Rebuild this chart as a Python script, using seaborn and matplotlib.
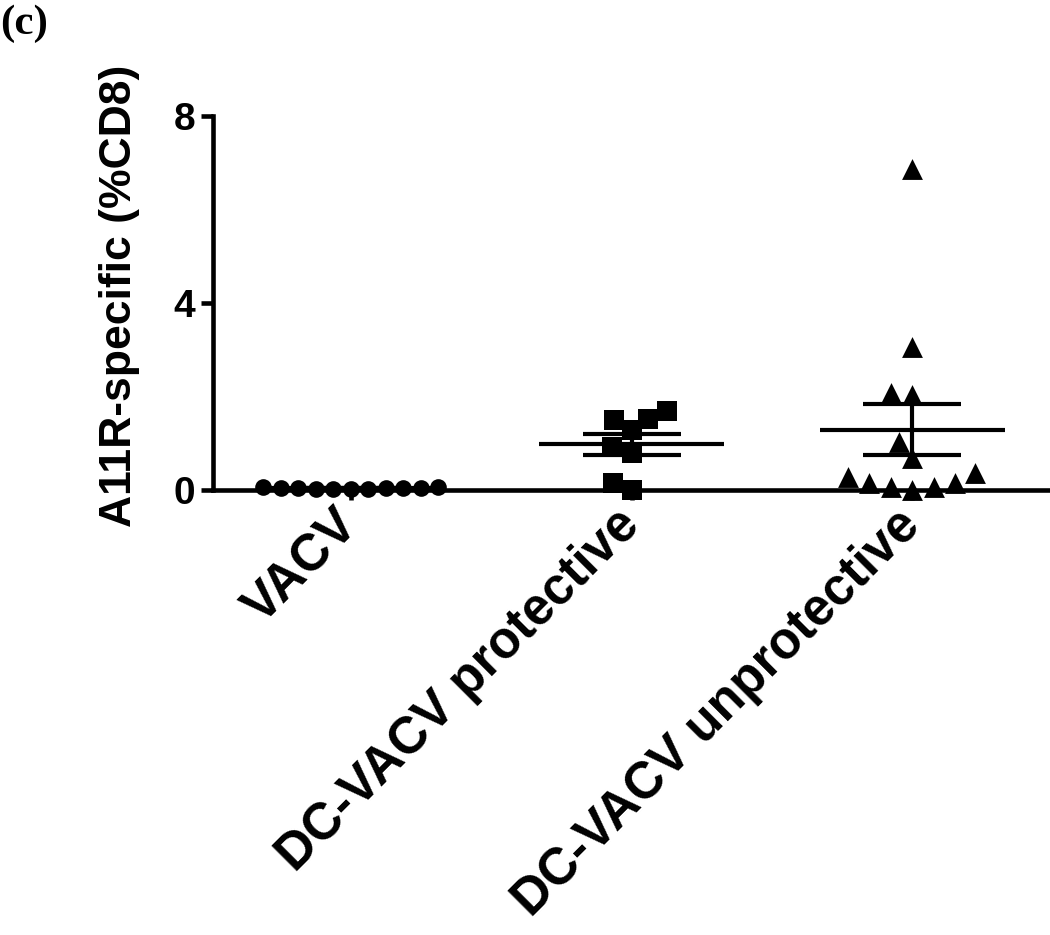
import matplotlib
matplotlib.use("Agg")
import matplotlib.pyplot as plt
import numpy as np
import pandas as pd
import seaborn as sns

groups = ['VACV', 'DC-VACV protective', 'DC-VACV unprotective']
markers = ['o', 's', '^']
sizes = [12, 14, 15]

vacv = [0.04, 0.03, 0.05, 0.02, 0.04, 0.06, 0.03, 0.07, 0.04, 0.05, 0.03]
protective = [1.69, 1.50, 1.52, 1.28, 0.92, 0.79, 0.15, 0.0]
unprotective = [6.87, 3.06, 2.03, 2.07, 1.03, 0.68, 0.36, 0.15, 0.06, 0.0, 0.06, 0.15, 0.28]

df = pd.DataFrame({
    'group': [groups[0]] * len(vacv) + [groups[1]] * len(protective) + [groups[2]] * len(unprotective),
    'value': vacv + protective + unprotective,
})

sns.set_theme(style='ticks')
plt.rcParams['font.family'] = ['Liberation Sans', 'DejaVu Sans']
plt.rcParams['font.weight'] = 'bold'
plt.rcParams['text.color'] = 'black'
plt.rcParams['axes.labelcolor'] = 'black'
plt.rcParams['xtick.color'] = 'black'
plt.rcParams['ytick.color'] = 'black'

fig = plt.figure(figsize=(10.5, 9.35), dpi=100)
ax = fig.add_axes([0.203, 0.476, 0.797, 0.4])

for g, m, s in zip(groups, markers, sizes):
    sns.swarmplot(data=df[df['group'] == g], x='group', y='value', order=groups,
                  marker=m, color='black', size=s, linewidth=0, ax=ax)

for coll in ax.collections:
    coll.set_clip_on(False)
    coll.set_zorder(5)

# mean with SEM
stats = df.groupby('group', sort=False)['value'].agg(['mean', 'sem'])
for i, g in enumerate(groups):
    mu = stats.loc[g, 'mean']
    se = stats.loc[g, 'sem']
    ax.hlines(mu, i - 0.33, i + 0.33, color='black', lw=3, zorder=6, clip_on=False)
    ax.errorbar(i, mu, yerr=se, color='black', lw=3, capsize=35, capthick=3,
                zorder=6, clip_on=False)

ax.set_xlim(-0.49, 2.49)
ax.set_ylim(0, 8)
ax.set_yticks([0, 4, 8])
ax.set_yticklabels(['0', '4', '8'])
ax.set_xlabel('')
ax.set_ylabel('A11R-specific (%CD8)', fontsize=32, fontweight='bold', color='black')
ax.yaxis.set_label_coords(-0.088, 0.52)

sns.despine(ax=ax)
for s in ['left', 'bottom']:
    ax.spines[s].set_linewidth(3.3)
    ax.spines[s].set_color('black')
ax.tick_params(axis='both', width=3.3, length=9, color='black', labelcolor='black',
               labelsize=28, pad=4)
ax.tick_params(axis='x', length=7, labelsize=37, pad=13)
plt.setp(ax.get_xticklabels(), rotation=45, ha='right', va='center',
         rotation_mode='anchor', fontweight='bold')
plt.setp(ax.get_yticklabels(), fontweight='bold')

fig.text(0.0, 0.995, '(c)', fontsize=31, fontweight='bold', va='top', ha='left',
         color='black', family=['Liberation Serif', 'DejaVu Serif'])

fig.savefig('out.png', dpi=100, facecolor='white')
